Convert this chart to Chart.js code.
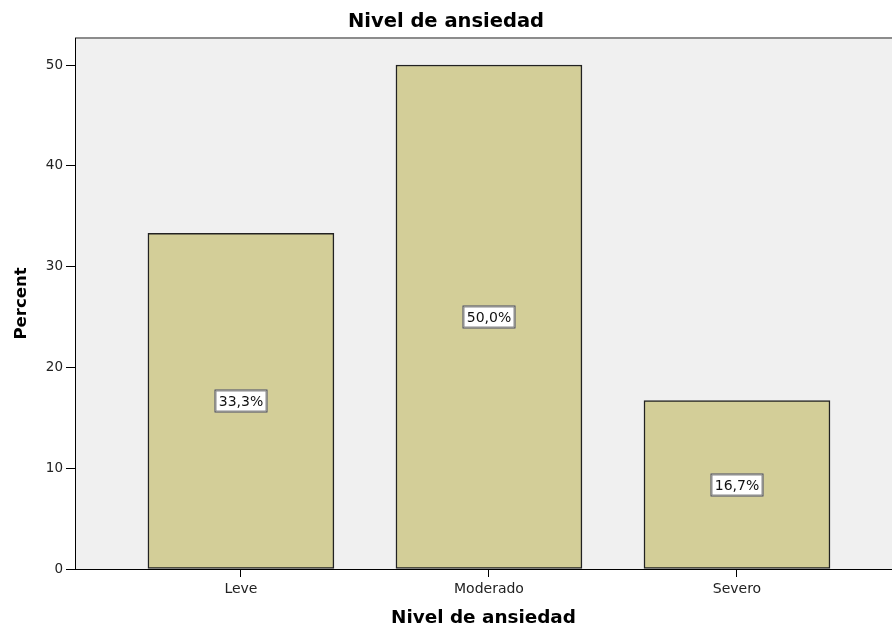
<!DOCTYPE html>
<html>
<head>
<meta charset="utf-8">
<script src="https://cdn.jsdelivr.net/npm/chart.js@4.4.1/dist/chart.umd.min.js"></script>
<style>
  html, body { margin: 0; padding: 0; background: #fff; }
  canvas { display: block; }
</style>
</head>
<body>
<canvas id="chart" width="892" height="629"></canvas>
<script>
// data
const CATEGORIES = ["Leve", "Moderado", "Severo"];
const PERCENTS = [33.3, 50.0, 16.7];
const Y_TICKS = [0, 10, 20, 30, 40, 50];

const TITLE = "Nivel de ansiedad";
const FONT = "'DejaVu Sans', sans-serif";

// light gray plot background + top border, like SPSS output
const plotBackground = {
  id: "plotBackground",
  beforeDraw(chart) {
    const { ctx, chartArea: a } = chart;
    ctx.save();
    ctx.fillStyle = "#f0f0f0";
    ctx.fillRect(a.left, a.top, a.right - a.left, a.bottom - a.top);
    ctx.strokeStyle = "#8c8c8c";
    ctx.lineWidth = 2;
    ctx.beginPath();
    ctx.moveTo(a.left, a.top);
    ctx.lineTo(a.right, a.top);
    ctx.stroke();
    ctx.restore();
  },
};

// boxed value labels in the middle of each bar
const boxLabels = {
  id: "boxLabels",
  afterDatasetsDraw(chart) {
    const { ctx } = chart;
    const meta = chart.getDatasetMeta(0);
    ctx.save();
    ctx.font = "14px " + FONT;
    ctx.textAlign = "center";
    ctx.textBaseline = "middle";
    meta.data.forEach((bar, i) => {
      const txt = PERCENTS[i].toFixed(1).replace(".", ",") + "%";
      const cx = Math.round(bar.x);
      const cy = Math.round((bar.y + bar.base) / 2);
      const w = 53, h = 23;
      const x0 = cx - w / 2, y0 = cy - h / 2;
      ctx.fillStyle = "#fff";
      ctx.fillRect(x0, y0, w, h);
      ctx.strokeStyle = "#333";
      ctx.lineWidth = 1;
      ctx.strokeRect(x0 + 0.5, y0 + 0.5, w - 1, h - 1);
      ctx.strokeStyle = "#8a8a8a";
      ctx.strokeRect(x0 + 1.5, y0 + 1.5, w - 3, h - 3);
      ctx.fillStyle = "#111";
      ctx.fillText(txt, cx, cy + 1);
    });
    ctx.restore();
  },
};

new Chart(document.getElementById("chart"), {
  type: "bar",
  data: {
    datasets: [{
      data: PERCENTS.map((v, i) => ({ x: i, y: v })),
      backgroundColor: "#d3ce98",
      borderColor: "#222",
      borderWidth: 1.5,
      borderSkipped: false,
      barThickness: 186,
    }],
  },
  options: {
    responsive: false,
    animation: false,
    layout: { padding: 0 },
    plugins: {
      legend: { display: false },
      tooltip: { enabled: false },
      title: {
        display: true,
        text: TITLE,
        color: "#000",
        font: { family: FONT, size: 19.5, weight: "bold" },
        padding: { top: 10, bottom: 4.6 },
      },
    },
    scales: {
      x: {
        type: "linear",
        offset: false,
        min: -0.669,
        max: 2.625,
        afterBuildTicks: s => { s.ticks = CATEGORIES.map((c, i) => ({ value: i })); },
        afterFit: s => { s.height = 60; },
        ticks: {
          callback: v => CATEGORIES[v],
          color: "#222",
          font: { family: FONT, size: 14 },
          padding: 4,
          maxRotation: 0,
        },
        grid: { offset: false, drawOnChartArea: false, tickLength: 8, tickColor: "#000" },
        border: { color: "#000", width: 1 },
        title: {
          display: true,
          text: TITLE,
          color: "#000",
          font: { family: FONT, size: 18.4, weight: "bold" },
          padding: { top: 8, bottom: 0 },
        },
      },
      y: {
        min: 0,
        max: 52.68,
        afterBuildTicks: s => { s.ticks = Y_TICKS.map(v => ({ value: v })); },
        afterFit: s => { s.width = 75; },
        ticks: {
          color: "#222",
          font: { family: FONT, size: 13.5 },
          padding: 3,
        },
        grid: { drawOnChartArea: false, tickLength: 9, tickColor: "#000" },
        border: { color: "#000", width: 1 },
        title: {
          display: true,
          text: "Percent",
          color: "#000",
          font: { family: FONT, size: 16.5, weight: "bold" },
          padding: { top: 12, bottom: 4 },
        },
      },
    },
  },
  plugins: [plotBackground, boxLabels],
});
</script>
</body>
</html>
